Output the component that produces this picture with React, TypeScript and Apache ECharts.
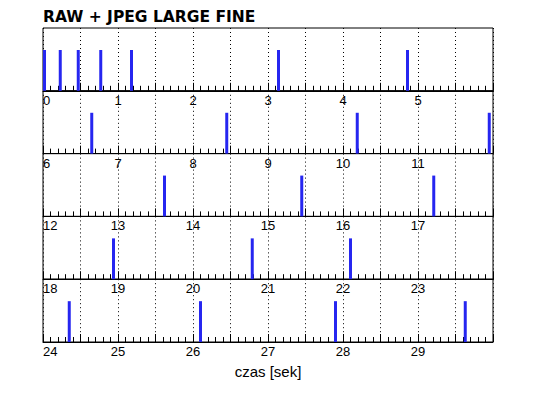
import React, { useEffect, useRef } from 'react';
import * as echarts from 'echarts';

const TITLE = 'RAW + JPEG LARGE FINE';
const AXIS_NAME = 'czas [sek]';
const ROW_STARTS = [0, 6, 12, 18, 24];
const ROW_SPAN = 6;
const EVENT_TIMES = [
  0.02, 0.23, 0.47, 0.77, 1.18, 3.14, 4.86,
  6.65, 8.45, 10.19, 11.95,
  13.62, 15.45, 17.21,
  18.94, 20.79, 22.1,
  24.35, 26.1, 27.9, 29.63,
];
const EVENT_LEVEL = 0.65;

const BAR_COLOR = '#2626f0';
const LABEL_FONT = 'Liberation Sans, Arial, sans-serif';

export default function App() {
  const ref = useRef<HTMLDivElement>(null);

  useEffect(() => {
    if (!ref.current) return;
    const chart = echarts.init(ref.current, undefined, { renderer: 'svg' });
    const gridTop = 28;
    const rowH = 62.8;
    const last = ROW_STARTS.length - 1;

    const grid = ROW_STARTS.map((_, i) => ({
      left: 43,
      right: 45,
      top: gridTop + i * rowH,
      height: rowH,
      show: true,
      borderColor: '#000',
      borderWidth: 1,
      backgroundColor: 'transparent',
    }));

    const xAxis = ROW_STARTS.map((s, i) => ({
      type: 'value',
      gridIndex: i,
      min: s,
      max: s + ROW_SPAN,
      interval: 0.5,
      axisLine: { show: true, onZero: false, lineStyle: { color: '#000', width: 1 } },
      axisTick: { show: true, inside: true, length: 8, lineStyle: { color: '#000', width: 1 } },
      minorTick: { show: true, splitNumber: 5, length: 5, lineStyle: { color: '#000', width: 1 } },
      splitLine: { show: true, lineStyle: { color: '#000', width: 1, type: [1, 3] } },
      axisLabel: {
        show: true,
        formatter: (v: number) => (Math.abs(v - Math.round(v)) < 1e-6 ? String(Math.round(v)) : ''),
        showMinLabel: true,
        showMaxLabel: false,
        alignMinLabel: 'left',
        margin: 3,
        color: '#000',
        fontSize: 13,
        fontFamily: LABEL_FONT,
      },
      name: i === last ? AXIS_NAME : '',
      nameLocation: 'middle',
      nameGap: 22,
      nameTextStyle: { color: '#000', fontSize: 15, fontFamily: LABEL_FONT },
    }));

    const yAxis = ROW_STARTS.map((_, i) => ({
      type: 'value',
      gridIndex: i,
      min: 0,
      max: 1,
      show: false,
    }));

    const series = ROW_STARTS.map((s, i) => ({
      type: 'bar',
      xAxisIndex: i,
      yAxisIndex: i,
      barWidth: 3,
      itemStyle: { color: BAR_COLOR },
      data: EVENT_TIMES.filter((t) => t >= s && t < s + ROW_SPAN).map((t) => [t, EVENT_LEVEL]),
    }));

    chart.setOption({
      animation: false,
      backgroundColor: '#fff',
      title: {
        text: TITLE,
        left: 43,
        top: 9,
        padding: 0,
        textStyle: { fontFamily: 'DejaVu Sans', fontWeight: 'bold', fontSize: 15.5, color: '#000' },
      },
      grid,
      xAxis,
      yAxis,
      series,
    });

    return () => chart.dispose();
  }, []);

  return (
    <div
      ref={ref}
      style={{ position: 'fixed', left: 0, top: 0, width: 538, height: 398, background: '#fff' }}
    />
  );
}
